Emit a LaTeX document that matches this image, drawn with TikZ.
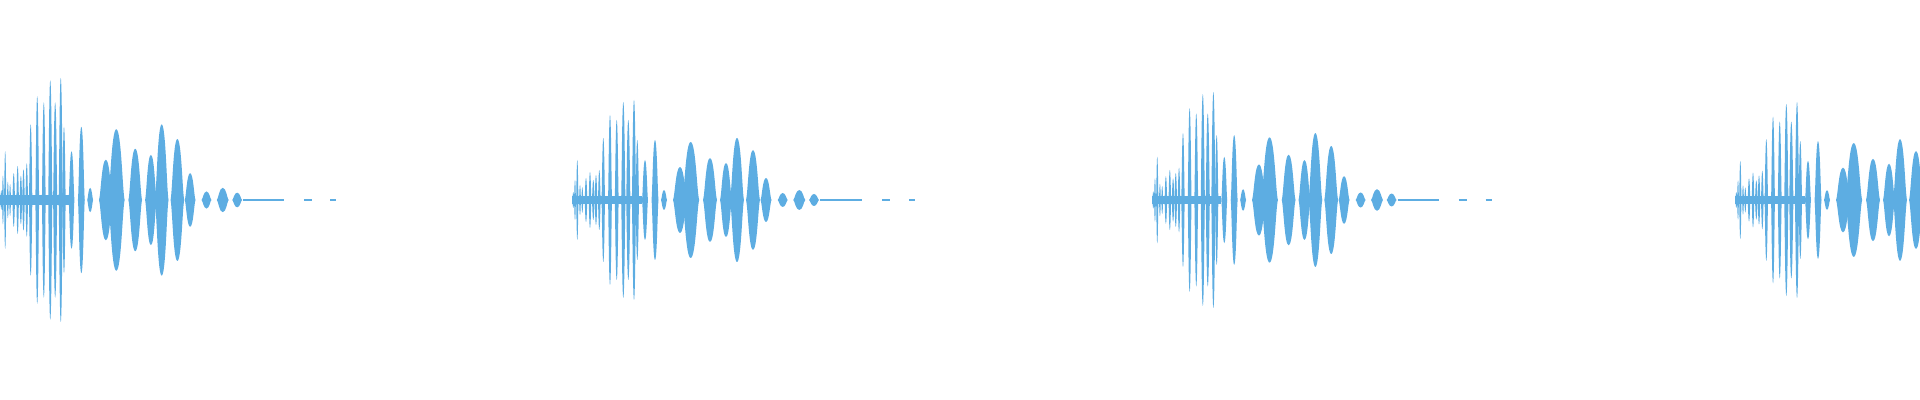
\documentclass[tikz,border=0pt]{standalone}
\usepackage{tikz}
\definecolor{wave}{HTML}{5DADE2}
\tikzset{
  spindle/.style={fill=wave, draw=none},
  trail/.style={draw=wave, line width=1pt}
}
% one burst: spindles given as offset/half width/amplitude
\newcommand{\burst}[3]{%
  \begin{scope}[shift={(#1,0)}, yscale=#2, xscale=#3]
    \fill[spindle] (0,-4) rectangle (70,4);
    \foreach \c/\w/\a in {1.3/1/8, 3/1/20, 5.3/1.2/40, 8/1/15, 10.3/1/13, 14/1.4/22,
      18/1.4/28, 21.3/1.4/20, 24/1.4/25, 27.3/1.4/30, 31.3/1.8/62, 38/2/85,
      44.7/2/80, 51.3/2.2/98, 56.3/2.2/80, 62/2.2/100, 65.3/1.8/60, 73/3/40,
      83/3.5/60, 92/3/10, 108/7/33, 118.7/8.5/58, 138/7/42, 154/6/37,
      165/7/62, 181/7/50, 194/5.5/22, 210.7/5/7, 227.3/6/10, 242/5/6}
      \fill[spindle] (\c-\w,0) .. controls (\c-0.75*\w,0.1*\a) and (\c-0.6*\w,\a) .. (\c,\a)
        .. controls (\c+0.6*\w,\a) and (\c+0.75*\w,0.1*\a) .. (\c+\w,0)
        .. controls (\c+0.75*\w,-0.1*\a) and (\c+0.6*\w,-\a) .. (\c,-\a)
        .. controls (\c-0.6*\w,-\a) and (\c-0.75*\w,-0.1*\a) .. cycle;
    \draw[trail] (248,0) -- (290,0);
    \draw[trail] (310,0) -- (318,0);
    \draw[trail] (337,0) -- (343,0);
  \end{scope}}
\begin{document}
\begin{tikzpicture}[x=0.5pt, y=0.5pt]
  \useasboundingbox (0,-200) rectangle (1920,200);
  \clip (0,-200) rectangle (1920,200);
  \burst{0}{1.22}{0.98}
  \burst{572}{1.0}{1.0}
  \burst{1152}{1.08}{0.99}
  \burst{1735}{0.98}{1.0}
\end{tikzpicture}
\end{document}
